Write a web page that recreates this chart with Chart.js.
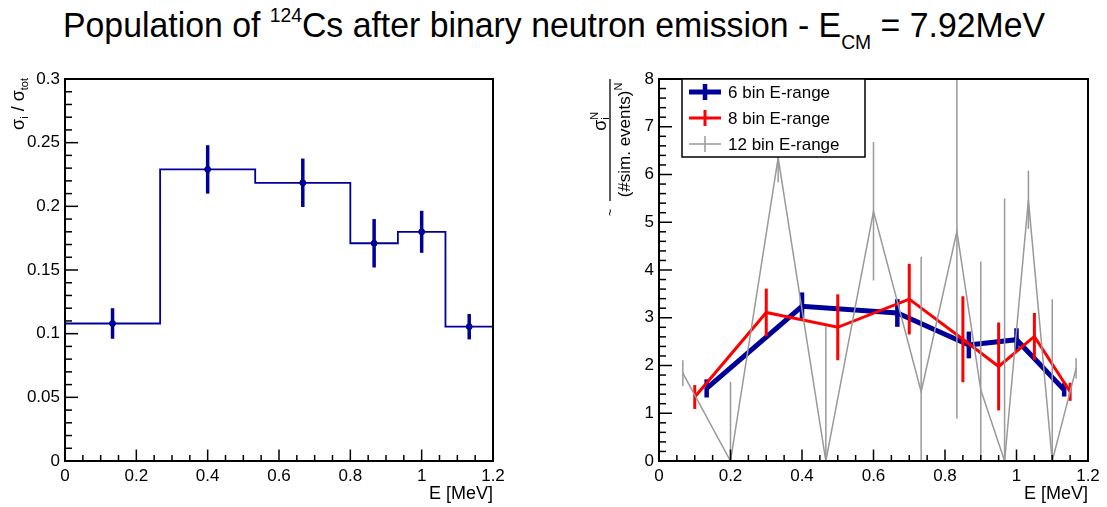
<!DOCTYPE html>
<html>
<head>
<meta charset="utf-8">
<script src="https://cdn.jsdelivr.net/npm/chart.js@4.4.1/dist/chart.umd.min.js"></script>
<style>
  html, body { margin: 0; padding: 0; background: #fff; }
  #wrap { position: relative; width: 1107px; height: 507px; overflow: hidden; }
  #title { position: absolute; left: 63px; top: 5px; font-family: 'Liberation Sans', Arial, sans-serif;
           font-size: 35px; white-space: nowrap; color: #000; transform-origin: 0 0; line-height: 40px; }
  #title .sup { font-size: 20px; position: relative; top: -15px; }
  #title .sub { font-size: 20px; position: relative; top: 12px; }
  .pane { position: absolute; top: 0; height: 507px; }
</style>
</head>
<body>
<div id="wrap">
  <div id="title">Population of <span class="sup">124</span>Cs after binary neutron emission - E<span class="sub">CM</span> = 7.92MeV</div>
  <div class="pane" style="left:0;width:553px"><canvas id="leftChart" width="553" height="507"></canvas></div>
  <div class="pane" style="left:553px;width:554px"><canvas id="rightChart" width="554" height="507"></canvas></div>
</div>
<script>
// ---- data ----
// left panel: sigma_i / sigma_tot, 6 bins
var binEdges = [0, 0.2667, 0.5333, 0.8, 0.9333, 1.0667, 1.2];
var binCenters = [0.1333, 0.4, 0.6667, 0.8667, 1.0, 1.1333];
var fracValues = [0.108, 0.229, 0.2185, 0.171, 0.180, 0.1055];
var fracErrors = [0.012, 0.019, 0.019, 0.019, 0.0165, 0.010];

// right panel: normalised cross sections for 6, 8 and 12 bin energy ranges
var sixValues = [1.52, 3.24, 3.10, 2.43, 2.54, 1.49];
var sixErrors = [0.19, 0.29, 0.29, 0.28, 0.24, 0.14];

var eightCenters = [0.1, 0.3, 0.5, 0.7, 0.85, 0.95, 1.05, 1.15];
var eightValues = [1.34, 3.11, 2.80, 3.39, 2.55, 1.98, 2.61, 1.45];
var eightErrors = [0.25, 0.50, 0.69, 0.74, 0.90, 0.92, 0.49, 0.19];

var twelveCenters = [0.0667, 0.2, 0.3333, 0.4667, 0.6, 0.7333, 0.8333, 0.9, 0.9667, 1.0333, 1.1, 1.1667];
var twelveValues = [1.84, 0, 6.35, 0, 5.23, 1.45, 4.81, 1.49, 0, 5.47, 0, 1.94];
var twelveErrors = [0.27, 1.66, 0.51, 2.82, 1.45, 2.83, 3.92, 2.69, 5.50, 0.61, 3.39, 0.21];

var seriesNames = ['6 bin E-range', '8 bin E-range', '12 bin E-range'];

// tick labels
var xTicks = [0, 0.2, 0.4, 0.6, 0.8, 1.0, 1.2];
var yTicksLeft = [0, 0.05, 0.1, 0.15, 0.2, 0.25, 0.3];
var yTicksRight = [0, 1, 2, 3, 4, 5, 6, 7, 8];

// colours
var navy = '#000099';
var red = '#ff0000';
var gray = '#999999';
var FONT = "'Liberation Sans', Arial, sans-serif";

function pts(xs, ys) {
  return xs.map(function (x, i) { return { x: x, y: ys[i] }; });
}

// histogram outline points (horizontal from each left edge to the next)
var histPoints = binEdges.map(function (e, i) {
  return { x: e, y: fracValues[Math.min(i, fracValues.length - 1)] };
});

function fmt(v) { return String(+v.toFixed(3)); }

function setTicks(list) {
  return function (scale) { scale.ticks = list.map(function (v) { return { value: v }; }); };
}

// draw text pieces in sequence (for sub/superscripts) in the current frame
function drawRich(ctx, parts, x, y) {
  var cx = x;
  parts.forEach(function (p) {
    ctx.font = p.size + 'px ' + FONT;
    ctx.fillText(p.t, cx, y + (p.dy || 0));
    if (!p.stack) cx += ctx.measureText(p.t).width;
  });
  return cx;
}
function richWidth(ctx, parts) {
  var w = 0;
  parts.forEach(function (p) {
    ctx.font = p.size + 'px ' + FONT;
    if (!p.stack) w += ctx.measureText(p.t).width;
  });
  return w;
}

// ROOT-like frame: box, inside ticks, error bars
var rootFrame = {
  id: 'rootFrame',
  afterDatasetDraw: function (chart, args) {
    var ds = chart.data.datasets[args.index];
    if (!ds.errors) return;
    var meta = args.meta;
    var ys = chart.scales.y, a = chart.chartArea;
    var ctx = chart.ctx;
    ctx.save();
    ctx.strokeStyle = ds.errColor || ds.borderColor;
    ctx.lineWidth = ds.errWidth || 2;
    meta.data.forEach(function (el, i) {
      var v = ds.data[i].y, e = ds.errors[i];
      var top = Math.max(ys.getPixelForValue(v + e), a.top);
      var bot = Math.min(ys.getPixelForValue(v - e), a.bottom);
      ctx.beginPath();
      ctx.moveTo(el.x, top);
      ctx.lineTo(el.x, bot);
      ctx.stroke();
    });
    ctx.restore();
  },
  afterDraw: function (chart, args, opts) {
    var ctx = chart.ctx, a = chart.chartArea;
    var xs = chart.scales.x, ys = chart.scales.y;
    ctx.save();
    ctx.strokeStyle = '#000';
    ctx.lineWidth = 1.5;
    // x ticks
    var xt = xs.ticks.map(function (t) { return t.value; });
    for (var i = 0; i < xt.length; i++) {
      var px = xs.getPixelForValue(xt[i]);
      ctx.beginPath(); ctx.moveTo(px, a.bottom); ctx.lineTo(px, a.bottom - opts.xMajor); ctx.stroke();
      if (i < xt.length - 1) {
        for (var k = 1; k < opts.xSub; k++) {
          var mx = xs.getPixelForValue(xt[i] + (xt[i + 1] - xt[i]) * k / opts.xSub);
          ctx.beginPath(); ctx.moveTo(mx, a.bottom); ctx.lineTo(mx, a.bottom - opts.xMinor); ctx.stroke();
        }
      }
    }
    var yt = ys.ticks.map(function (t) { return t.value; });
    for (var j = 0; j < yt.length; j++) {
      var py = ys.getPixelForValue(yt[j]);
      ctx.beginPath(); ctx.moveTo(a.left, py); ctx.lineTo(a.left + opts.yMajor, py); ctx.stroke();
      if (j < yt.length - 1) {
        for (var m = 1; m < opts.ySub; m++) {
          var my = ys.getPixelForValue(yt[j] + (yt[j + 1] - yt[j]) * m / opts.ySub);
          ctx.beginPath(); ctx.moveTo(a.left, my); ctx.lineTo(a.left + opts.yMinor, my); ctx.stroke();
        }
      }
    }
    ctx.lineWidth = 2;
    ctx.strokeRect(a.left, a.top, a.right - a.left, a.bottom - a.top);

    // x axis title
    ctx.fillStyle = '#000';
    ctx.font = '18px ' + FONT;
    ctx.textAlign = 'right';
    ctx.textBaseline = 'alphabetic';
    ctx.fillText('E [MeV]', a.right, 499);
    ctx.textAlign = 'left';
    if (opts.yTitle) opts.yTitle(ctx, chart);
    ctx.restore();
  }
};

function axisCommon(ticks, min, max, fitKey, fitVal) {
  return {
    type: 'linear', min: min, max: max,
    afterBuildTicks: setTicks(ticks),
    grid: { display: false, drawTicks: false },
    border: { display: false },
    ticks: { color: '#000', font: { family: FONT, size: 17 }, padding: 5, maxRotation: 0,
             autoSkip: false, callback: function (v) { return fmt(v); } },
    afterFit: function (s) { s[fitKey] = fitVal; }
  };
}

// ---- left chart ----
new Chart(document.getElementById('leftChart').getContext('2d'), {
  type: 'scatter',
  data: {
    datasets: [{
      data: histPoints,
      showLine: true,
      stepped: 'before',
      borderColor: navy,
      borderWidth: 1.8,
      pointRadius: 0
    }, {
      data: pts(binCenters, fracValues),
      errors: fracErrors,
      errWidth: 3.5,
      showLine: false,
      pointRadius: 3,
      pointBackgroundColor: navy,
      pointBorderColor: navy,
      borderColor: navy
    }]
  },
  options: {
    responsive: false,
    animation: false,
    events: [],
    layout: { padding: { left: 0, top: 79, right: 60, bottom: 0 } },
    plugins: {
      legend: { display: false },
      tooltip: { enabled: false },
      rootFrame: {
        xMajor: 11.5, xMinor: 6, xSub: 4,
        yMajor: 13, yMinor: 7, ySub: 5,
        yTitle: function (ctx) {
          ctx.save();
          ctx.translate(24, 0);
          ctx.rotate(-Math.PI / 2);
          var parts = [
            { t: 'σ', size: 18 }, { t: 'i', size: 11, dy: 4 },
            { t: ' / ', size: 18 },
            { t: 'σ', size: 18 }, { t: 'tot', size: 11, dy: 4 }
          ];
          var w = richWidth(ctx, parts);
          drawRich(ctx, parts, -78 - w, 0);
          ctx.restore();
        }
      }
    },
    scales: {
      x: axisCommon(xTicks, 0, 1.2, 'height', 46),
      y: axisCommon(yTicksLeft, 0, 0.3, 'width', 65)
    }
  },
  plugins: [rootFrame]
});

// ---- right chart ----
new Chart(document.getElementById('rightChart').getContext('2d'), {
  type: 'scatter',
  data: {
    datasets: [{
      label: seriesNames[2],
      data: pts(twelveCenters, twelveValues),
      errors: twelveErrors,
      errWidth: 1.5,
      showLine: true,
      borderColor: gray,
      borderWidth: 1.5,
      pointRadius: 0
    }, {
      label: seriesNames[1],
      data: pts(eightCenters, eightValues),
      errors: eightErrors,
      errWidth: 3,
      showLine: true,
      borderColor: red,
      borderWidth: 3,
      pointRadius: 0
    }, {
      label: seriesNames[0],
      data: pts(binCenters, sixValues),
      errors: sixErrors,
      errWidth: 4.5,
      showLine: true,
      borderColor: navy,
      borderWidth: 5,
      pointRadius: 0
    }]
  },
  options: {
    responsive: false,
    animation: false,
    events: [],
    layout: { padding: { left: 0, top: 79, right: 19, bottom: 0 } },
    plugins: {
      legend: { display: false },
      tooltip: { enabled: false },
      rootFrame: {
        xMajor: 11.5, xMinor: 6, xSub: 4,
        yMajor: 13, yMinor: 7, ySub: 5,
        yTitle: function (ctx, chart) {
          // fraction title
          ctx.save();
          ctx.translate(57, 140);
          ctx.rotate(-Math.PI / 2);
          ctx.fillStyle = '#000';
          ctx.strokeStyle = '#000';
          ctx.lineWidth = 1.3;
          ctx.beginPath(); ctx.moveTo(-61, 0); ctx.lineTo(61, 0); ctx.stroke();
          var num = [{ t: 'σ', size: 18 }, { t: 'N', size: 11, dy: -8, stack: true }, { t: 'i', size: 11, dy: 3 }];
          var nw = richWidth(ctx, num) + 6;
          drawRich(ctx, num, 19 - nw / 2, -4);
          var den = [{ t: '(#sim. events)', size: 17 }, { t: 'N', size: 11, dy: -8 }];
          var dw = richWidth(ctx, den);
          drawRich(ctx, den, -dw / 2, 20);
          ctx.font = '12px ' + FONT;
          ctx.fillText('~', -76, 4);
          ctx.restore();

          // legend box
          var ds = chart.data.datasets;
          var order = [2, 1, 0];
          ctx.save();
          ctx.fillStyle = '#fff';
          ctx.fillRect(129, 79, 183, 78);
          ctx.strokeStyle = '#000';
          ctx.lineWidth = 1.5;
          ctx.strokeRect(129, 79, 183, 78);
          var rows = [92, 118, 144];
          order.forEach(function (di, r) {
            var d = ds[di];
            ctx.strokeStyle = d.borderColor;
            ctx.lineWidth = d.borderWidth;
            ctx.beginPath(); ctx.moveTo(136, rows[r]); ctx.lineTo(168, rows[r]); ctx.stroke();
            ctx.lineWidth = d.errWidth;
            ctx.beginPath(); ctx.moveTo(152, rows[r] - 8); ctx.lineTo(152, rows[r] + 8); ctx.stroke();
            ctx.fillStyle = '#000';
            ctx.font = '17px ' + FONT;
            ctx.textBaseline = 'middle';
            ctx.fillText(d.label, 175, rows[r] + 1);
          });
          ctx.restore();
        }
      }
    },
    scales: {
      x: axisCommon(xTicks, 0, 1.2, 'height', 46),
      y: axisCommon(yTicksRight, 0, 8, 'width', 106)
    }
  },
  plugins: [rootFrame]
});

// fit the title to the width it takes in the picture
var title = document.getElementById('title');
var tw = title.getBoundingClientRect().width;
title.style.transform = 'scaleX(' + (982 / tw) + ')';
</script>
</body>
</html>
